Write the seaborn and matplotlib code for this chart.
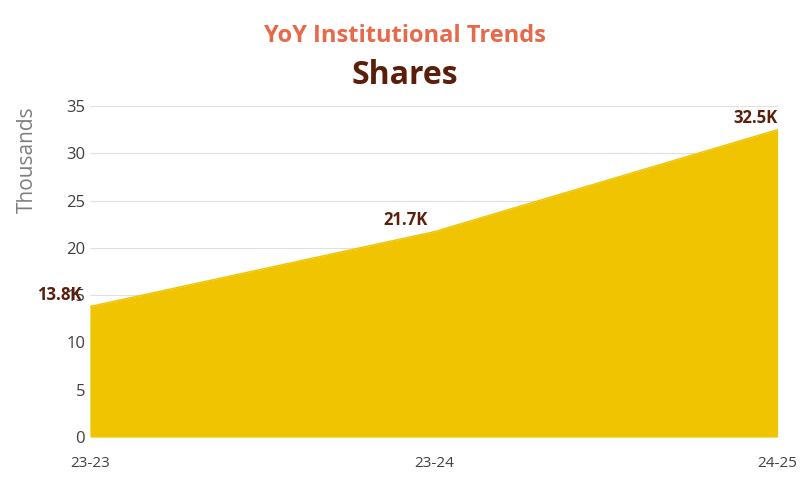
import matplotlib
matplotlib.use("Agg")
import matplotlib.pyplot as plt
import seaborn as sns
import pandas as pd

sns.set_theme(style="white")
plt.rcParams['font.family'] = ['Open Sans', 'DejaVu Sans']

periods = ["23-23", "23-24", "24-25"]
shares_k = [13.8, 21.7, 32.5]
labels = ["13.8K", "21.7K", "32.5K"]

FILL = "#F0C400"
BROWN = "#5A1E0A"
ORANGE = "#E8694A"

df = pd.DataFrame({"x": range(len(periods)), "v": shares_k})

fig = plt.figure(figsize=(8.1, 4.84), dpi=100)
ax = fig.add_axes([0.111, 0.097, 0.849, 0.684])

ax.fill_between(df["x"], 0, df["v"], color=FILL, linewidth=0, zorder=2)
sns.lineplot(data=df, x="x", y="v", ax=ax, color=FILL, linewidth=1, zorder=3)

ax.set_xlim(0, len(periods) - 1)
ax.set_ylim(0, 35)
ax.set_yticks(range(0, 36, 5))
ax.set_xticks(df["x"])
ax.set_xticklabels(periods)
ax.tick_params(axis="x", pad=14, labelsize=11, colors="#404040", length=0)
ax.tick_params(axis="y", labelsize=12, colors="#404040", length=0)
ax.yaxis.grid(True, color="#e0e0e0", linewidth=0.8, zorder=0)
ax.set_axisbelow(True)
for s in ax.spines.values():
    s.set_visible(False)
ax.set_xlabel("")
ax.set_ylabel("Thousands", fontsize=15, color="#7f7f7f", loc="top")
ax.yaxis.set_label_coords(-0.075, 1.0)

for i, (v, t) in enumerate(zip(shares_k, labels)):
    ha = "left" if i == 0 else ("center" if i == 1 else "right")
    dx = -38 if i == 0 else (-20 if i == 1 else 0)
    ax.annotate(t, (i, v), textcoords="offset points", xytext=(dx, 5),
                ha=ha, fontsize=12, fontweight="bold", color=BROWN)

fig.text(0.5, 0.925, "YoY Institutional Trends", ha="center", va="center",
         fontsize=17, fontweight="bold", color=ORANGE)
fig.text(0.5, 0.845, "Shares", ha="center", va="center",
         fontsize=23, fontweight="bold", color=BROWN)

fig.savefig("out.png", dpi=100)
